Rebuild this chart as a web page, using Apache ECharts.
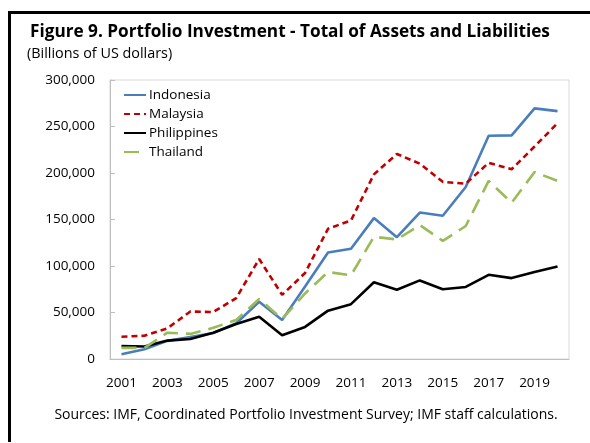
<!DOCTYPE html>
<html>
<head>
<meta charset="UTF-8" />
<script src="https://cdn.jsdelivr.net/npm/echarts@6/dist/echarts.min.js"></script>
<style>
  html, body { margin: 0; padding: 0; background: #fff; }
  #main { width: 590px; height: 443px; }
</style>
</head>
<body>
<div id="main"></div>
<script>
  const years = ['2001', '2002', '2003', '2004', '2005', '2006', '2007', '2008', '2009', '2010',
    '2011', '2012', '2013', '2014', '2015', '2016', '2017', '2018', '2019', '2020'];
  const indonesia = [5000, 10500, 19500, 23500, 28000, 38500, 61500, 42000, 78000, 114500,
    118500, 151500, 131000, 157500, 154000, 185000, 240000, 240500, 269500, 266500];
  const malaysia = [24000, 25000, 33000, 51000, 50500, 65500, 107500, 69000, 92500, 140000,
    149000, 198500, 220500, 210000, 190500, 188500, 211000, 204000, 228500, 253500];
  const philippines = [14000, 13500, 19800, 21500, 28300, 37600, 45500, 25500, 34500, 52000,
    59000, 82500, 74500, 84500, 75000, 77500, 90500, 87000, 93500, 99500];
  const thailand = [12000, 12000, 28300, 27000, 33500, 42000, 64500, 43000, 70500, 93500,
    90000, 131500, 128500, 144000, 127000, 143000, 191500, 168000, 201000, 191500];

  const titleText = 'Figure 9. Portfolio Investment - Total of Assets and Liabilities';
  const subText = '(Billions of US dollars)';
  const sourceText = 'Sources: IMF, Coordinated Portfolio Investment Survey; IMF staff calculations.';

  const fam = '"Open Sans"';
  const font = '"Open Sans", "Noto Sans", sans-serif';

  // pick a font size so the text spans the same width as in the figure
  const ctx = document.createElement('canvas').getContext('2d');
  function fit(text, weight, width) {
    ctx.font = weight + ' 100px ' + fam;
    return Math.round(1000 * width / ctx.measureText(text).width) / 10;
  }
  const titleSize = fit(titleText, 'bold', 521);
  const subSize = fit(subText, 'normal', 145);
  const sourceSize = fit(sourceText, 'normal', 505);

  const chart = echarts.init(document.getElementById('main'));

  const mk = (name, data, color, type) => ({
    name: name,
    type: 'line',
    data: data,
    symbol: 'none',
    lineStyle: { color: color, width: 2.6, type: type },
    itemStyle: { color: color }
  });

  const txt = (text, x, y, size, weight, align) => ({
    type: 'text',
    style: {
      text: text, x: x, y: y,
      font: weight + ' ' + size + 'px ' + font,
      fill: '#000',
      align: align, textAlign: align,
      verticalAlign: 'middle', textVerticalAlign: 'middle'
    }
  });

  chart.setOption({
    animation: false,
    textStyle: { fontFamily: font },
    graphic: [
      { type: 'rect', shape: { x: 8, y: 11, width: 582, height: 3 }, style: { fill: '#000' } },
      { type: 'rect', shape: { x: 8, y: 11, width: 3, height: 431 }, style: { fill: '#000' } },
      txt(titleText, 30, 32, titleSize, 'bold', 'left'),
      txt(subText, 27, 54, subSize, 'normal', 'left'),
      txt(sourceText, 306, 415, sourceSize, 'normal', 'center')
    ],
    legend: {
      orient: 'vertical',
      left: 123, top: 88, padding: 0,
      itemWidth: 22, itemHeight: 14, itemGap: 5,
      itemStyle: { opacity: 0 },
      textStyle: { fontSize: 13.5, color: '#000', fontFamily: font, padding: [0, 0, 0, -2] },
      data: ['Indonesia', 'Malaysia', 'Philippines', 'Thailand']
    },
    grid: {
      left: 110, top: 80, right: 21, bottom: 84,
      show: true, borderColor: '#d9d9d9', borderWidth: 1
    },
    xAxis: {
      type: 'category',
      data: years,
      boundaryGap: true,
      axisLine: { lineStyle: { color: '#bfbfbf' } },
      axisTick: { inside: true, interval: 1, length: 5, lineStyle: { color: '#bfbfbf' } },
      axisLabel: { interval: 1, fontSize: 13.5, color: '#000', margin: 17 }
    },
    yAxis: {
      type: 'value',
      min: 0, max: 300000, interval: 50000,
      splitLine: { show: false },
      axisLine: { show: true, lineStyle: { color: '#bfbfbf' } },
      axisTick: { show: true, inside: true, length: 5, lineStyle: { color: '#bfbfbf' } },
      axisLabel: {
        fontSize: 13.5, color: '#000', margin: 15,
        formatter: v => v.toLocaleString('en-US')
      }
    },
    series: [
      mk('Indonesia', indonesia, '#4a7ebb', 'solid'),
      mk('Malaysia', malaysia, '#c00000', [6, 4]),
      mk('Philippines', philippines, '#000000', 'solid'),
      mk('Thailand', thailand, '#9bbb59', [15, 8])
    ]
  });
</script>
</body>
</html>
